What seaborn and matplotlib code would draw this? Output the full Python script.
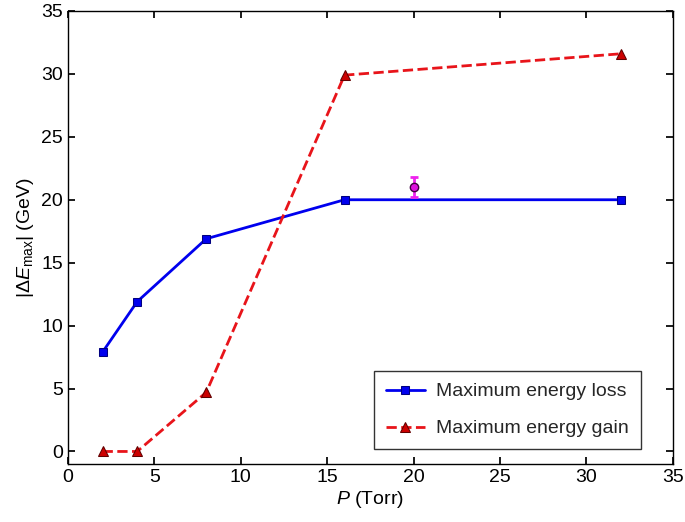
import matplotlib
matplotlib.use("Agg")
import matplotlib.pyplot as plt
import pandas as pd
import seaborn as sns

pressure = [2, 4, 8, 16, 32]
energy_loss = [7.9, 11.9, 16.9, 20.0, 20.0]
energy_gain = [0.0, 0.0, 4.7, 29.9, 31.6]
measured_p = [20]
measured_e = [21.0]
measured_err = [0.8]

sns.set_theme(style="white")
plt.rcParams["font.family"] = ["Liberation Sans", "DejaVu Sans"]
plt.rcParams["mathtext.fontset"] = "custom"
plt.rcParams["mathtext.it"] = "Liberation Sans:italic"
plt.rcParams["mathtext.rm"] = "Liberation Sans"

df = pd.DataFrame({"P": pressure, "loss": energy_loss, "gain": energy_gain})

fig = plt.figure(figsize=(6.85, 5.22), dpi=100)
ax = fig.add_axes([0.0993, 0.111, 0.883, 0.868])

sns.lineplot(data=df, x="P", y="loss", ax=ax, color="#0000ee", lw=2,
             marker="s", markersize=6, markeredgecolor="#000080",
             label="Maximum energy loss")
sns.lineplot(data=df, x="P", y="gain", ax=ax, color="#e8141a", lw=2,
             linestyle="--", marker="^", markersize=7, markerfacecolor="#cc0000",
             markeredgecolor="#600000", label="Maximum energy gain")
ax.errorbar(measured_p, measured_e, yerr=measured_err, fmt="o", color="#ee22ee",
            markerfacecolor="#dd11dd", markeredgecolor="#400040", markersize=6,
            capsize=3, elinewidth=2, capthick=2)

ax.set_xlim(0, 35)
ax.set_ylim(-1, 35)
ax.set_xticks(range(0, 36, 5))
ax.set_yticks(range(0, 36, 5))
ax.tick_params(direction="in", length=5, labelsize=14, top=True, right=True,
               bottom=True, left=True, color="black", labelcolor="black")
for s in ax.spines.values():
    s.set_color("black")
    s.set_linewidth(1)

ax.set_xlabel(r"$P$ (Torr)", fontsize=14, labelpad=2, color="black")
ax.set_ylabel(r"|$\Delta E_{\mathrm{max}}$| (GeV)", fontsize=14, labelpad=4,
              color="black")

leg = ax.legend(loc="lower right", bbox_to_anchor=(0.947, 0.033), fontsize=14,
                frameon=True, fancybox=False, edgecolor="black",
                borderaxespad=0, handlelength=2.0, handletextpad=0.6,
                borderpad=0.6, labelspacing=1.0)
leg.get_frame().set_linewidth(1)

fig.savefig("out.png", dpi=100)
